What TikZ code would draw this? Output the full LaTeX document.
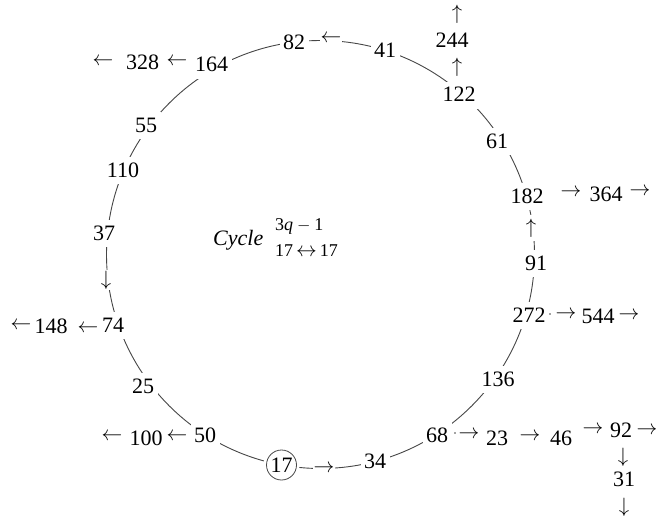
\documentclass[tikz,border=0pt]{standalone}
\usepackage{fontspec}
\setmainfont{Liberation Serif}
\newcommand\nfont{\fontsize{22}{26}\selectfont}
\newcommand\sfnt{\fontsize{18}{22}\selectfont}
\newcommand\La{$\leftarrow$}
\newcommand\Ra{$\rightarrow$}
\newcommand\Ua{$\uparrow$}
\newcommand\Da{$\downarrow$}
\begin{document}
\begin{tikzpicture}[x=1pt,y=-1pt,
  num/.style={font=\nfont, fill=white, inner xsep=3.5pt, inner ysep=5pt, text height=15pt, text depth=2pt, anchor=base},
  plain/.style={font=\nfont, inner sep=0pt, anchor=base},
  arr/.style={font=\nfont, fill=white, inner sep=1pt, anchor=center},
  farr/.style={font=\nfont, inner sep=0pt, anchor=center},
  ring/.style={draw=black!72, line width=0.9pt}]
\useasboundingbox (0,0) rectangle (659,519);
\coordinate (O) at (320.5,254.5);
\draw[ring] (O) circle[radius=214];
% numbers on the cycle
\node[num] (n82)  at (294,50)  {82};
\node[num] (n41)  at (385,58)  {41};
\node[num] (n164) at (211.5,72) {164};
\node[num] (n122) at (459,102) {122};
\node[num] (n61)  at (497,148) {61};
\node[num] (n182) at (527,203) {182};
\node[num] (n91)  at (536,270) {91};
\node[num] (n272) at (529,322) {272};
\node[num] (n136) at (498,386) {136};
\node[num] (n68)  at (437,442) {68};
\node[num] (n34)  at (375,468) {34};
\node[num] (n50)  at (205,442) {50};
\node[num] (n25)  at (143,393) {25};
\node[num] (n74)  at (113,332) {74};
\node[num] (n37)  at (104,240) {37};
\node[num] (n110) at (123,177) {110};
\node[num] (n55)  at (146,132) {55};
\fill[white] (281.5,465) circle[radius=18];
\node[draw=black!72, line width=0.8pt, circle, minimum size=30pt, inner sep=0pt, font=\nfont, fill=white] (n17) at (281.5,465) {17};
% arrows on the cycle
\node[arr] (a1) at (331,39)  {\La};
\node[arr] (a2) at (324,469) {\Ra};
\node[arr, inner ysep=4pt] (a3) at (531,228) {\Ua};
\node[arr] (a4) at (106,280) {\Da};
% numbers off the cycle
\node[plain] (n328) at (142.5,70) {328};
\node[plain] (n244) at (452,48)  {244};
\node[plain] (n364) at (606,201) {364};
\node[plain] (n544) at (598,323) {544};
\node[plain] (n23)  at (497,445) {23};
\node[plain] (n46)  at (561,445) {46};
\node[plain] (n92)  at (621,437) {92};
\node[plain] (n31)  at (624,486) {31};
\node[plain] (n100) at (146,445) {100};
\node[plain] (n148) at (51,333)  {148};
% arrows off the cycle
\node[farr] (b1)  at (103,62)  {\La};
\node[farr] (b2)  at (177,62)  {\La};
\node[farr] (b3)  at (457,14)  {\Ua};
\node[farr] (b4)  at (457,67)  {\Ua};
\node[farr] (b5)  at (571,193) {\Ra};
\node[farr] (b6)  at (640,192) {\Ra};
\node[farr] (b7)  at (566,315) {\Ra};
\node[farr] (b8)  at (629,316) {\Ra};
\node[farr] (b9)  at (469,435) {\Ra};
\node[farr] (b10) at (530,437) {\Ra};
\node[farr] (b11) at (593,430) {\Ra};
\node[farr] (b12) at (647,431) {\Ra};
\node[farr] (b13) at (623,457) {\Da};
\node[farr] (b14) at (624,507) {\Da};
\node[farr] (b15) at (21,326)  {\La};
\node[farr] (b16) at (88,329)  {\La};
\node[farr] (b17) at (112,437) {\La};
\node[farr] (b18) at (177,437) {\La};
% small stray dots
\fill[black!72] (455,433) circle[radius=0.8];
\fill[black!72] (550,314) circle[radius=0.8];
% cycle label
\node[plain, anchor=base west, font=\nfont\itshape] (cyc) at (213,245) {Cycle};
\node[plain, anchor=base west, font=\sfnt] (cq) at (275,230) {3\textit{q}${}-{}$1};
\node[plain, anchor=base west, font=\sfnt] (cc) at (275,256) {17\,{\fontsize{22}{24}\selectfont$\leftrightarrow$}\,17};
\end{tikzpicture}
\end{document}
